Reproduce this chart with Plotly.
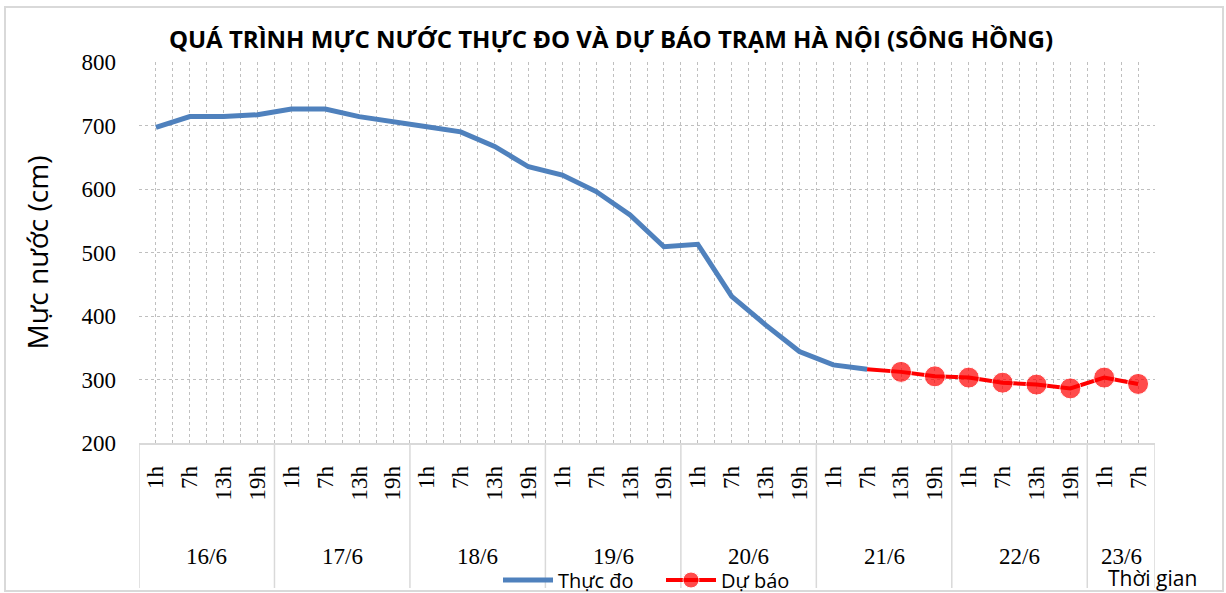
import plotly.graph_objects as go

# ---------------- data ----------------
days = ["16/6", "17/6", "18/6", "19/6", "20/6", "21/6", "22/6", "23/6"]
hour_labels = ["1h", "7h", "13h", "19h"] * 7 + ["1h", "7h"]
day_of_cat = [d for d in days[:7] for _ in range(4)] + ["23/6", "23/6"]

measured_level = [697, 714, 714, 717, 726, 726, 714, 707, 698, 690, 667, 635,
                  622, 596, 559, 509, 513, 431, 386, 344, 323, 316]
forecast_start = 21
forecast_level = [316, 312, 305, 303, 295, 292, 286, 303, 293]
forecast_marker = [0] + [21] * 8

# ---------------- geometry ----------------
W, H = 1226, 593
L, R, T, B = 139, 1155, 62, 443
ph = B - T
pw = R - L

def py(pix):  # pixel y -> paper y
    return (B - pix) / ph

def px(pix):
    return (pix - L) / pw

x_all = list(range(len(hour_labels)))
x_meas = x_all[:len(measured_level)]
x_fc = x_all[forecast_start:forecast_start + len(forecast_level)]

fig = go.Figure()
fig.add_trace(go.Scatter(
    x=x_meas, y=measured_level, mode="lines", name="Thực đo",
    line=dict(color="#4f81bd", width=5),
))
fig.add_trace(go.Scatter(
    x=x_fc, y=forecast_level, mode="lines+markers", name="Dự báo",
    line=dict(color="#ff0000", width=4),
    marker=dict(color="#ff0000", size=forecast_marker),
))

serif = "Liberation Serif"
sans = "Open Sans"

shapes = []
annotations = []
# day group dividers and labels
bounds = set()
for d in days:
    idx = [i for i, dd in enumerate(day_of_cat) if dd == d]
    lo, hi = min(idx) - 0.5, max(idx) + 0.5
    bounds.add(lo)
    bounds.add(hi)
    annotations.append(dict(
        x=(lo + hi) / 2, y=py(556), xref="x", yref="paper", text=d,
        showarrow=False, font=dict(family=serif, size=23, color="#000"),
        xanchor="center", yanchor="middle"))
for b in sorted(bounds):
    shapes.append(dict(type="line", xref="x", yref="paper", x0=b, x1=b,
                       y0=0, y1=py(588), line=dict(color="#d9d9d9", width=1.5)))
# outer border
shapes.append(dict(type="rect", xref="paper", yref="paper",
                   x0=px(5), x1=px(1223), y0=py(591), y1=py(7),
                   line=dict(color="#d9d9d9", width=2)))

annotations.append(dict(
    x=px(1152), y=py(578), xref="paper", yref="paper", text="Thời gian",
    showarrow=False, font=dict(family=sans, size=21, color="#000"),
    xanchor="center", yanchor="middle"))

minor_vals = [i - 0.5 for i in range(len(hour_labels) + 1)]

fig.update_layout(
    width=W, height=H,
    margin=dict(l=L, r=W - R, t=T, b=H - B, autoexpand=False),
    paper_bgcolor="white", plot_bgcolor="white",
    title=dict(text="<b>QUÁ TRÌNH MỰC NƯỚC THỰC ĐO VÀ DỰ BÁO TRẠM HÀ NỘI (SÔNG HỒNG)</b>",
               x=611 / W, xref="container", xanchor="center",
               y=1 - 40 / H, yref="container", yanchor="middle",
               font=dict(family=sans, size=24, color="#000")),
    xaxis=dict(
        range=[-0.5, len(hour_labels) - 0.5],
        tickmode="array", tickvals=x_all, ticktext=hour_labels,
        tickangle=-90, ticks="", ticklabelstandoff=12,
        tickfont=dict(family=serif, size=23, color="#000"),
        showgrid=True, gridcolor="#bfbfbf", griddash="dot", gridwidth=1,
        minor=dict(tickmode="array", tickvals=minor_vals, showgrid=True,
                   gridcolor="#bfbfbf", griddash="dot", gridwidth=1, ticks=""),
        showline=True, linecolor="#d9d9d9", linewidth=1.5,
        zeroline=False, fixedrange=True, automargin=False,
    ),
    yaxis=dict(
        range=[200, 800], tickmode="array", tickvals=[200, 300, 400, 500, 600, 700, 800],
        ticks="", ticklabelstandoff=22, automargin=False,
        tickfont=dict(family=serif, size=23, color="#000"),
        showgrid=True, gridcolor="#bfbfbf", griddash="dot", gridwidth=1,
        zeroline=False, showline=False,
        title=dict(text="Mực nước (cm)", standoff=24,
                   font=dict(family=sans, size=28, color="#000")),
    ),
    legend=dict(orientation="h", x=px(498), xanchor="left", y=py(580), yanchor="middle",
                font=dict(family=sans, size=20, color="#000"),
                bgcolor="rgba(0,0,0,0)", itemwidth=50, entrywidth=98,
                tracegroupgap=0),
    shapes=shapes, annotations=annotations,
    showlegend=True,
)

fig.write_html("out.html", config={"displayModeBar": False},
               post_script="document.body.style.margin='0';document.body.style.overflow='hidden';")
